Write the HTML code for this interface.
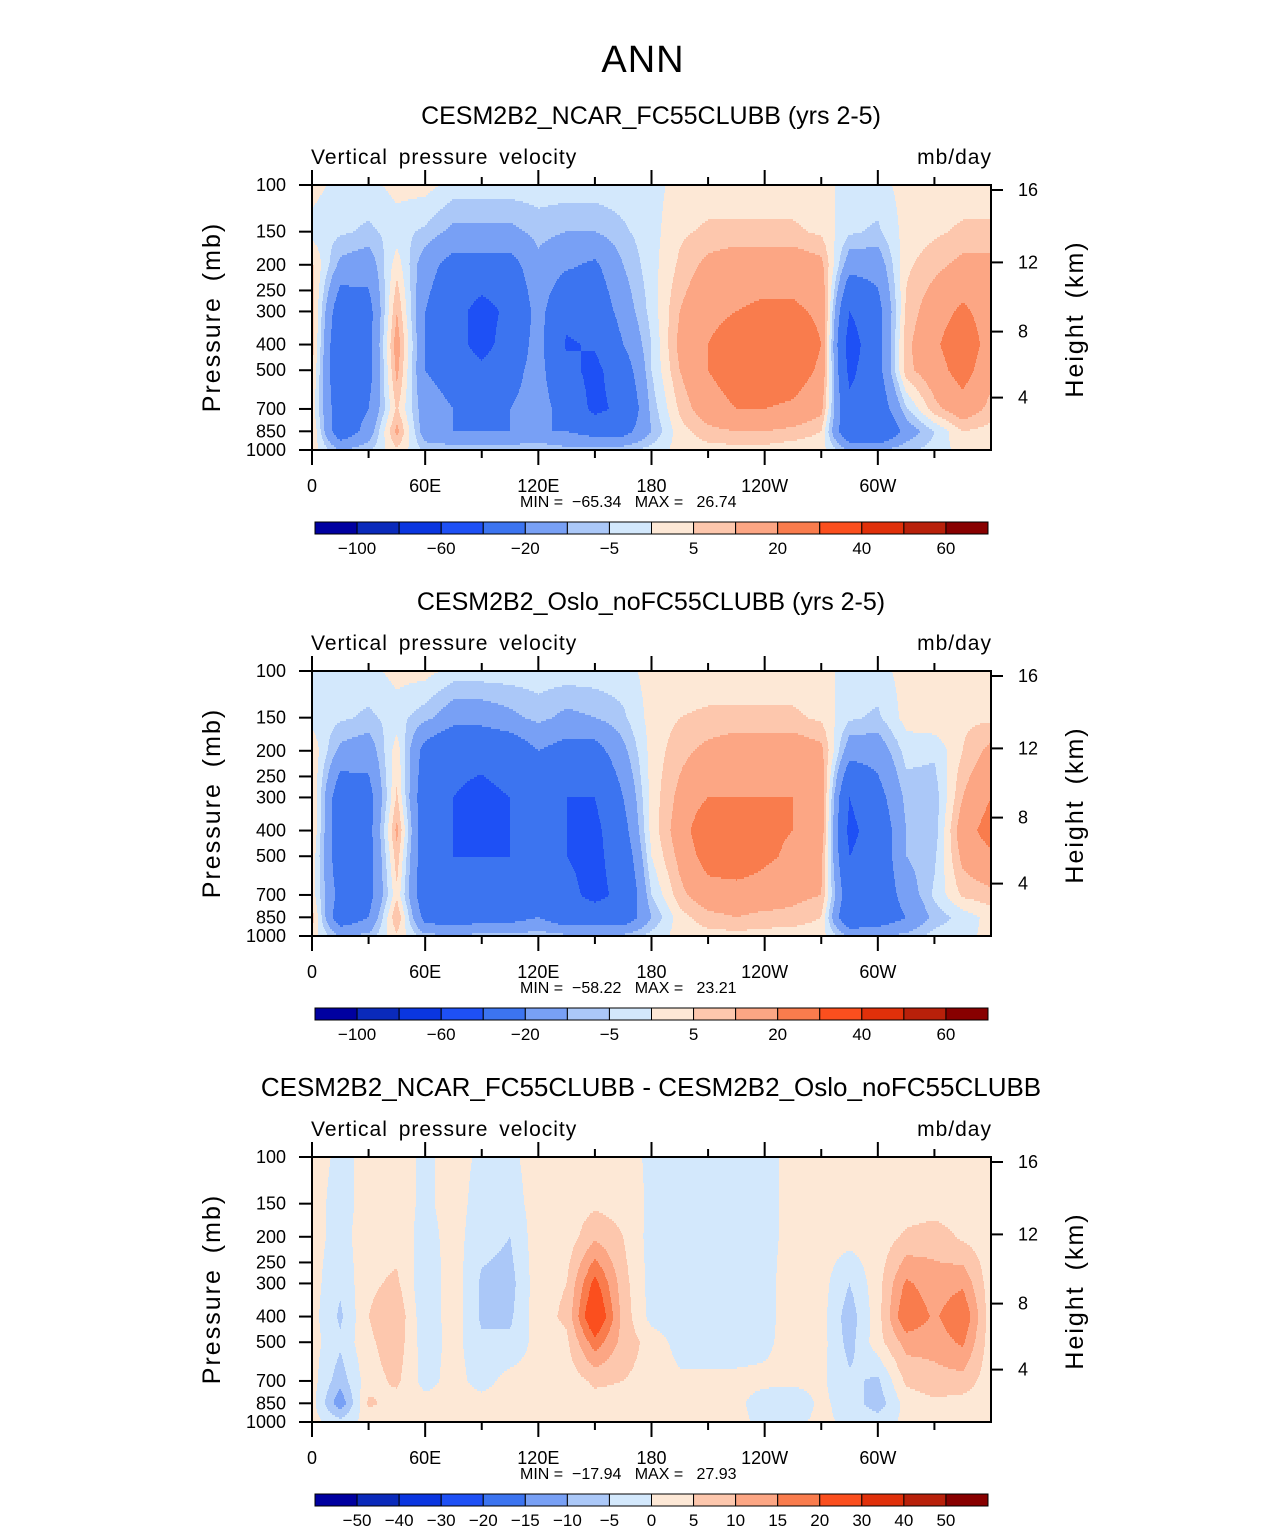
<!DOCTYPE html>
<html><head><meta charset="utf-8">
<style>
html,body{margin:0;padding:0;background:#fff;}
svg text{font-family:"Liberation Sans",sans-serif;fill:#000;}
</style></head>
<body>
<svg id="fig" width="1285" height="1531" xmlns="http://www.w3.org/2000/svg">
<text x="643" y="72" font-size="38" text-anchor="middle" style="letter-spacing:1px">ANN</text>
</svg>
<script>
const lons = [0,15,30,45,60,75,90,105,120,135,150,165,180,195,210,225,240,255,270,285,300,315,330,345,360];
const levels = [100,150,200,300,400,500,700,850,1000];
const field1 = [
[2,-2,-2,2,2,-2,-2,-2,-2,-2,-2,-2,-2,2,2,2,2,2,2,-2,-2,2,2,2,2],
[-2,-4,-6,-3,-6,-12,-12,-12,-8,-10,-10,-6,-2,4,6,6,6,6,4,-4,-6,2,4,6,6],
[6,-12,-15,3,-15,-25,-25,-25,-12,-18,-22,-10,-2,6,12,15,15,15,12,-15,-15,4,8,12,12],
[8,-30,-25,10,-20,-32,-48,-35,-15,-35,-30,-15,-3,10,18,20,22,22,18,-40,-25,6,15,22,15],
[8,-35,-25,14,-20,-32,-48,-30,-15,-42,-38,-20,-5,12,20,24,28,28,20,-50,-25,8,18,28,15],
[6,-35,-25,12,-20,-25,-35,-25,-15,-35,-45,-28,-5,10,20,26,28,26,18,-45,-25,8,15,25,12],
[3,-30,-20,6,-15,-20,-25,-20,-15,-25,-45,-35,-8,6,15,20,20,18,12,-35,-30,-6,8,15,8],
[6,-30,-15,12,-15,-20,-20,-20,-20,-20,-25,-25,-10,3,8,10,10,8,5,-35,-40,-15,-5,5,3],
[3,-10,-6,4,-6,-6,-6,-6,-4,-8,-8,-6,-3,2,3,3,3,2,2,-10,-10,-6,-3,2,2]];
const field2 = [
[-2,-2,-2,2,2,-2,-2,-2,-2,-2,-2,-2,2,2,2,2,2,2,2,-2,-2,2,2,2,2],
[-2,-4,-6,-3,-8,-15,-15,-12,-8,-12,-10,-6,2,5,6,6,6,6,4,-4,-6,2,4,4,4],
[4,-12,-15,3,-25,-35,-35,-30,-20,-25,-25,-12,2,8,12,15,15,15,12,-15,-15,-3,-4,5,12],
[6,-30,-25,6,-30,-40,-45,-40,-30,-40,-40,-20,2,12,20,20,20,20,15,-40,-25,-8,-8,10,20],
[6,-30,-25,12,-30,-40,-45,-40,-30,-40,-45,-25,2,14,30,30,22,20,15,-45,-30,-10,-8,15,25],
[4,-30,-25,8,-30,-40,-40,-40,-25,-40,-45,-30,0,12,25,28,22,18,12,-40,-30,-10,-6,12,18],
[3,-25,-25,4,-30,-35,-35,-35,-25,-35,-45,-35,-5,8,15,15,15,12,10,-30,-30,-15,-4,6,8],
[8,-30,-20,10,-25,-30,-25,-25,-20,-30,-30,-30,-10,3,8,10,8,8,5,-35,-30,-20,-8,-3,2],
[3,-10,-8,4,-8,-8,-8,-8,-6,-8,-8,-8,-3,2,3,3,3,2,2,-10,-10,-8,-3,-2,2]];
const field3 = [
[2,-1,1,2,-1,2,-1,-1,2,1,2,2,-1,-1,-1,-1,-1,1,2,2,2,2,2,2,2],
[2,-2,2,2,-1,2,-2,-2,2,2,4,3,-1,-2,-2,-2,-2,2,2,2,2,2,2,2,2],
[2,-2,3,3,-2,2,-3,-5,3,2,9,5,-2,-3,-3,-3,-2,2,2,2,2,6,8,4,2],
[2,-4,4,6,-4,3,-6,-7,3,5,22,7,-2,-3,-3,-3,-2,3,2,-5,3,16,12,14,2],
[2,-6,5,9,-4,3,-6,-6,3,6,28,8,-2,-3,-3,-3,-2,3,2,-8,3,20,14,20,2],
[2,-4,4,8,-3,2,-4,-4,2,4,18,8,3,-2,-2,-2,-1,2,2,-7,3,12,12,16,2],
[2,-8,3,6,-2,2,-2,2,2,2,6,5,3,1,1,1,1,1,1,-4,-6,6,8,8,2],
[2,-14,6,3,2,2,2,2,2,2,3,3,2,1,1,1,-2,-3,1,-2,-8,2,4,3,2],
[2,-3,2,1,1,1,1,1,1,1,1,1,1,1,1,1,-1,-1,1,-1,-2,1,1,1,1]];
const bounds12 = [-100,-80,-60,-40,-20,-10,-5,0,5,10,20,30,40,50,60];
const labels12 = ["−100","","−60","","−20","","−5","","5","","20","","40","","60"];
const bounds3 = [-50,-40,-30,-20,-15,-10,-5,0,5,10,15,20,30,40,50];
const labels3 = ["−50","−40","−30","−20","−15","−10","−5","0","5","10","15","20","30","40","50"];
const colors = ["#0000a0","#0a2abb","#0a36e0","#1e50f5","#3c74f0","#78a0f5","#abc8f8","#d3e8fc","#fde8d6","#fdc7ad","#fca684","#f97c4d","#fb4f1e","#e0300a","#b8200a","#880000"];
const pTicks = [100,150,200,250,300,400,500,700,850,1000];
const xTicks = [0,60,120,180,240,300];
const xLabels = ["0","60E","120E","180","120W","60W"];
const hTicks = [16,12,8,4];
const titles = ["CESM2B2_NCAR_FC55CLUBB (yrs 2-5)","CESM2B2_Oslo_noFC55CLUBB (yrs 2-5)","CESM2B2_NCAR_FC55CLUBB - CESM2B2_Oslo_noFC55CLUBB"];
const titleSizes = [25,25,26];
const minmax = [["−65.34","26.74"],["−58.22","23.21"],["−17.94","27.93"]];

const NS="http://www.w3.org/2000/svg";
const svg=document.getElementById('fig');
function mk(tag,attrs,parent){const e=document.createElementNS(NS,tag);for(const k in attrs)e.setAttribute(k,attrs[k]);(parent||svg).appendChild(e);return e;}
const X0=312,X1=991,H=265;
function xs(lon){return X0+(X1-X0)*lon/360;}
function ys(p,top){return top+H*Math.log(p/100)/Math.log(10);}
function hy(h,top){const d=16-h;return top+5+d*18.5-d*d*0.1;}

function sample(field,lon,p){
  let i=Math.min(lons.length-2,Math.floor(lon/15));let tx=(lon-lons[i])/15;
  const lp=Math.log(p);let j=0;while(j<levels.length-2&&lp>Math.log(levels[j+1]))j++;
  let ty=(lp-Math.log(levels[j]))/(Math.log(levels[j+1])-Math.log(levels[j]));
  ty=Math.max(0,Math.min(1,ty));
  const a=field[j][i],b=field[j][i+1],c=field[j+1][i],d=field[j+1][i+1];
  return (a*(1-tx)+b*tx)*(1-ty)+(c*(1-tx)+d*tx)*ty;
}
function cls(v,b){let k=0;while(k<b.length&&v>=b[k])k++;return k;}

function panel(idx,field,bounds,labels){
  const off=idx*486, top=185+off;
  const g=mk('g',{});
  
  
  const t=mk('text',{x:651,y:124+off,'font-size':titleSizes[idx],'text-anchor':'middle'},g);t.textContent=titles[idx];
  
  
  const t1=mk('text',{x:311,y:164+off,'font-size':21,style:'letter-spacing:1px;word-spacing:4px'},g);t1.textContent="Vertical pressure velocity";
  
  
  const t2=mk('text',{x:992,y:164+off,'font-size':21,'text-anchor':'end',style:'letter-spacing:1px'},g);t2.textContent="mb/day";
  
  
  const cg=mk('g',{'shape-rendering':'crispEdges'},g);
  
  
  const step=2;
  for(let y=top;y<top+H;y+=step){
    const p=100*Math.pow(10,(y+step/2-top)/H);
    let start=X0,prev=-1;
    for(let x=X0;x<=X1;x++){
      const c=x<X1?cls(sample(field,(x+0.5-X0)/(X1-X0)*360,p),bounds):-2;
      if(c!==prev){
        if(prev>=0){const r=mk('rect',{x:start,y:y,width:x-start,height:step,fill:colors[prev]},cg);
          
          }
        start=x;prev=c;
      }
    }
  }
  const fr=mk('rect',{x:X0,y:top,width:X1-X0,height:H,fill:'none',stroke:'#000','stroke-width':2},g);
  
  
  for(let lon=0;lon<=330;lon+=30){
    const major=lon%60===0,len=major?15:8,x=xs(lon);
    mk('line',{x1:x,x2:x,y1:top+H,y2:top+H+len,stroke:'#000','stroke-width':2},g);
    mk('line',{x1:x,x2:x,y1:top,y2:top-len,stroke:'#000','stroke-width':2},g);
  }
  xTicks.forEach((lon,k)=>{const tx=mk('text',{x:xs(lon),y:top+H+42,'font-size':18,'text-anchor':'middle'},g);tx.textContent=xLabels[k];
    
    });
  pTicks.forEach(p=>{const y=ys(p,top);mk('line',{x1:X0,x2:X0-13,y1:y,y2:y,stroke:'#000','stroke-width':2},g);
    const tx=mk('text',{x:286,y:y+6,'font-size':18,'text-anchor':'end'},g);tx.textContent=p;
    
    });
  hTicks.forEach(h=>{const y=hy(h,top);mk('line',{x1:X1,x2:X1+12,y1:y,y2:y,stroke:'#000','stroke-width':2},g);
    const tx=mk('text',{x:1018,y:y+6,'font-size':18},g);tx.textContent=h;
    
    });
  const yl=mk('text',{transform:`translate(220,${top+132}) rotate(-90)`,'font-size':25,'text-anchor':'middle',style:'letter-spacing:2px;word-spacing:6px'},g);yl.textContent="Pressure (mb)";
  
  
  const yr=mk('text',{transform:`translate(1083,${top+134}) rotate(-90)`,'font-size':25,'text-anchor':'middle',style:'letter-spacing:2px;word-spacing:6px'},g);yr.textContent="Height (km)";
  
  
  const mm=mk('text',{x:520,y:top+322,'font-size':16,style:'white-space:pre'},g);mm.textContent=`MIN =  ${minmax[idx][0]}   MAX =   ${minmax[idx][1]}`;
  
  
  const cb=mk('g',{},g);
  
  
  const bx=315,bw=673/16,by=top+337;
  colors.forEach((c,k)=>{const r=mk('rect',{x:bx+k*bw,y:by,width:bw,height:12,fill:c,stroke:'#000','stroke-width':1},cb);
    
    });
  labels.forEach((l,k)=>{if(!l)return;const tx=mk('text',{x:bx+(k+1)*bw,y:by+32,'font-size':17,'text-anchor':'middle'},cb);tx.textContent=l;
    
    });
}
panel(0,field1,bounds12,labels12);
panel(1,field2,bounds12,labels12);
panel(2,field3,bounds3,labels3);
</script>
</body></html>
